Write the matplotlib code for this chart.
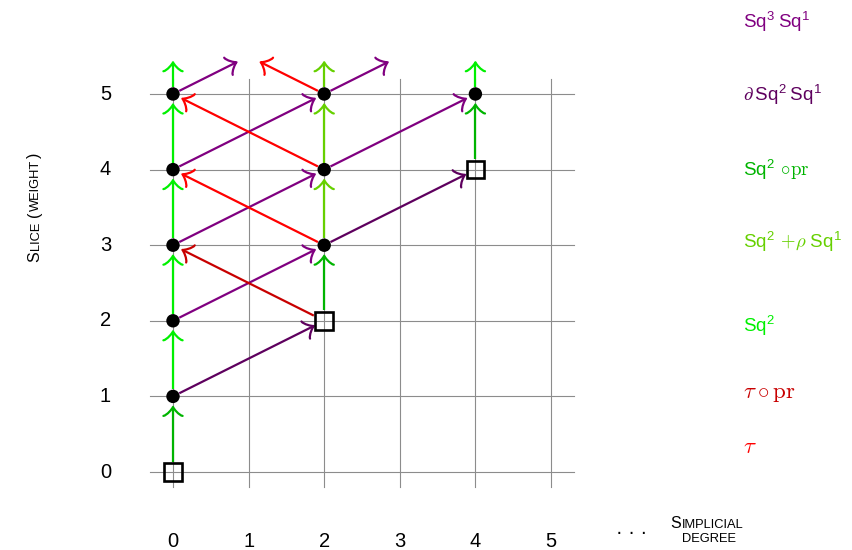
import numpy as np
import matplotlib
matplotlib.use("Agg")
import matplotlib.pyplot as plt
from matplotlib.patches import Circle, Rectangle, PathPatch
from matplotlib.path import Path

plt.rcParams["font.family"] = ["Liberation Sans", "DejaVu Sans"]
plt.rcParams["mathtext.fontset"] = "custom"
plt.rcParams["mathtext.rm"] = "cmr10"
plt.rcParams["mathtext.it"] = "cmmi10"
plt.rcParams["mathtext.sf"] = "Liberation Sans"
plt.rcParams["mathtext.fallback"] = "cm"

# ---------------- data ----------------
x_ticks = [0, 1, 2, 3, 4, 5]
y_ticks = [0, 1, 2, 3, 4, 5]

dot_nodes = [(0, 1), (0, 2), (0, 3), (0, 4), (0, 5), (2, 3), (2, 4), (2, 5), (4, 5)]
box_nodes = [(0, 0), (2, 2), (4, 4)]

map_names = ["sq3sq1", "dsq2sq1", "sq2pr", "sq2rho", "sq2", "taupr", "tau"]
map_labels = [
    r"$\mathsf{Sq}^{\mathsf{3}}\,\mathsf{Sq}^{\mathsf{1}}$",
    r"$\partial\,\mathsf{Sq}^{\mathsf{2}}\,\mathsf{Sq}^{\mathsf{1}}$",
    r"$\mathsf{Sq}^{\mathsf{2}}\ {\circ}\mathrm{pr}$",
    r"$\mathsf{Sq}^{\mathsf{2}}\ {+}\rho\;\mathsf{Sq}^{\mathsf{1}}$",
    r"$\mathsf{Sq}^{\mathsf{2}}$",
    r"$\tau\circ\mathrm{pr}$",
    r"$\tau$",
]
map_colors = ["#800080", "#5e005e", "#00b400", "#66d000", "#00f000", "#c80000", "#ff0000"]
label_rows = [5.87, 4.91, 3.92, 2.96, 1.85, 0.98, 0.25]

arrows = {
    "sq2": [((0, 1), (0, 2)), ((0, 2), (0, 3)), ((0, 3), (0, 4)), ((0, 4), (0, 5)),
            ((0, 5), (0, 6)), ((4, 5), (4, 6))],
    "sq2pr": [((0, 0), (0, 1)), ((2, 2), (2, 3)), ((4, 4), (4, 5))],
    "sq2rho": [((2, 3), (2, 4)), ((2, 4), (2, 5)), ((2, 5), (2, 6))],
    "sq3sq1": [((0, 2), (2, 3)), ((0, 3), (2, 4)), ((0, 4), (2, 5)), ((0, 5), (2, 6)),
               ((2, 4), (4, 5)), ((2, 5), (4, 6))],
    "dsq2sq1": [((0, 1), (2, 2)), ((2, 3), (4, 4))],
    "tau": [((2, 3), (0, 4)), ((2, 4), (0, 5)), ((2, 5), (0, 6))],
    "taupr": [((2, 2), (0, 3))],
}

# ---------------- layout ----------------
W, H, DPI = 852, 550, 100
X0, Y0, S = 173.0, 472.0, 75.6      # pixel origin of (0,0) and pixels per unit
TOP = 5.42                          # arrows leaving the visible grid stop here
label_sizes = [13.5, 13.5, 13.5, 13.5, 13.5, 16.5, 16.5]

fig = plt.figure(figsize=(W / DPI, H / DPI), dpi=DPI)
ax = fig.add_axes([0, 0, 1, 1])
ax.set_xlim(-X0 / S, (W - X0) / S)
ax.set_ylim((Y0 - H) / S, Y0 / S)
ax.set_aspect("equal")
ax.axis("off")


def px2data(px, py):
    return (px - X0) / S, (Y0 - py) / S


u = 1.0 / S  # one pixel in data units

# grid
for yv in y_ticks:
    ax.plot([-0.3, 5.3], [yv, yv], color="#8c8c8c", lw=0.8, zorder=1)
for xv in x_ticks:
    ax.plot([xv, xv], [-0.2, 5.2], color="#8c8c8c", lw=0.8, zorder=1)

dot_r = 6.7 * u
box_h = 8.8 * u
dot_set = set(dot_nodes)
box_set = set(box_nodes)


def node_gap(node, d, tip):
    if node in dot_set:
        return (10.5 if tip else 7.0) * u
    if node in box_set:
        return (box_h + 1.6 * u) / max(abs(d[0]), abs(d[1]))
    return 0.0


def arrow_head(tip, d, color, lw):
    k = 2.4 * u
    n = np.array([-d[1], d[0]])
    loc = [(-3, 4), (-2.75, 2.5), (0, 0.25), (0.75, 0), (0, -0.25), (-2.75, -2.5), (-3, -4)]
    base = tip - 0.75 * k * d
    verts = [base + k * (a * d + b * n) for a, b in loc]
    codes = [Path.MOVETO, Path.CURVE4, Path.CURVE4, Path.CURVE4,
             Path.CURVE4, Path.CURVE4, Path.CURVE4]
    ax.add_patch(PathPatch(Path(verts, codes), fill=False, edgecolor=color, lw=lw,
                           capstyle="round", joinstyle="round", zorder=2))


def draw_arrow(src, dst, color, lw=1.6):
    p0 = np.array(src, float)
    p1 = np.array(dst, float)
    d = (p1 - p0) / np.linalg.norm(p1 - p0)
    start = p0 + node_gap(src, d, False) * d
    if p1[1] > 5.5:
        tip = p0 + d * (TOP - p0[1]) / d[1]
    else:
        tip = p1 - node_gap(dst, d, True) * d
    k = 2.4 * u
    end = tip - 0.6 * k * d
    ax.plot([start[0], end[0]], [start[1], end[1]], color=color, lw=lw,
            solid_capstyle="butt", zorder=2)
    arrow_head(tip, d, color, lw)


color_of = dict(zip(map_names, map_colors))
for name in ["sq2", "sq2pr", "sq2rho", "sq3sq1", "dsq2sq1", "tau", "taupr"]:
    for src, dst in arrows[name]:
        draw_arrow(src, dst, color_of[name])

for (xv, yv) in dot_nodes:
    ax.add_patch(Circle((xv, yv), dot_r, facecolor="black", edgecolor="none", zorder=3))
for (xv, yv) in box_nodes:
    ax.add_patch(Rectangle((xv - box_h, yv - box_h), 2 * box_h, 2 * box_h,
                           facecolor="none", edgecolor="black", lw=1.9, zorder=3))

# tick labels
tick_fs = 14.5
for xv in x_ticks:
    ax.text(xv, px2data(0, 541.5)[1], str(xv), fontsize=tick_fs, ha="center", va="center")
for yv in y_ticks:
    ax.text(px2data(105.5, 0)[0], yv, str(yv), fontsize=tick_fs, ha="center", va="center")
ax.text(*px2data(631.7, 538.5), "\u00b7 \u00b7 \u00b7", fontsize=tick_fs, ha="center",
        va="baseline")

# legend of maps
lx = px2data(743, 0)[0]
for lab, col, yr, fs in zip(map_labels, map_colors, label_rows, label_sizes):
    ax.text(lx, yr, lab, color=col, fontsize=fs, ha="left", va="baseline")

# small-caps axis titles
fig.canvas.draw()
renderer = fig.canvas.get_renderer()


def piece_widths(pieces):
    out = []
    for s, size in pieces:
        if s == " ":
            out.append(0.3 * size * DPI / 72.0)
            continue
        t = ax.text(0, 0, s, fontsize=size)
        out.append(t.get_window_extent(renderer).width + 1.0)
        t.remove()
    return out


def caps_row(cx, base, pieces):
    ws = piece_widths(pieces)
    x = cx - sum(ws) / 2.0
    for (s, size), w in zip(pieces, ws):
        if s != " ":
            ax.text(*px2data(x, base), s, fontsize=size, ha="left", va="baseline")
        x += w


def caps_column(base_x, cy, pieces):
    ws = piece_widths(pieces)
    y = cy + sum(ws) / 2.0
    for (s, size), w in zip(pieces, ws):
        if s != " ":
            ax.text(*px2data(base_x, y), s, fontsize=size, ha="left", va="baseline",
                    rotation=90, rotation_mode="anchor")
        y -= w


big, small = 11.5, 9.3
caps_row(707.5, 528.0, [("S", big), ("IMPLICIAL", small)])
caps_row(709.5, 541.7, [("DEGREE", small)])
caps_column(39.0, 207.0, [("S", big), ("LICE", small), (" ", small), ("(", big),
                          ("WEIGHT", small), (")", big)])

fig.savefig("out.png", dpi=DPI)
